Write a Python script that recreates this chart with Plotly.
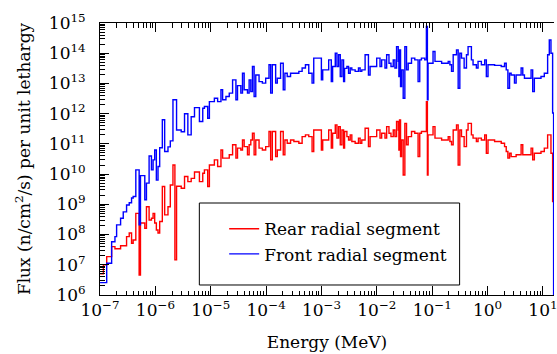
import plotly.graph_objects as go

# ---- data ----
# log10 of lower energy-group boundaries (MeV); last entry is the upper bound of the last group
log10_energy_edges = [
    -7.000, -6.940, -6.880, -6.791, -6.731, -6.701, -6.629, -6.581, -6.521, -6.473,
    -6.431, -6.402, -6.354, -6.294, -6.270, -6.192, -6.162, -6.114, -6.072, -6.042,
    -6.013, -5.983, -5.953, -5.923, -5.875, -5.833, -5.773, -5.731, -5.683, -5.648,
    -5.618, -5.534, -5.474, -5.414, -5.354, -5.294, -5.205, -5.145,
    -5.115, -5.055, -5.025, -4.935, -4.876, -4.816, -4.786, -4.726, -4.666, -4.606,
    -4.546, -4.517, -4.457, -4.427, -4.397, -4.337, -4.307, -4.277, -4.247, -4.217,
    -4.187, -4.128, -4.068, -4.008, -3.948, -3.918, -3.888, -3.828, -3.798, -3.739,
    -3.691, -3.661, -3.619, -3.559, -3.499, -3.409, -3.350, -3.290, -3.230, -3.170,
    -3.140,
    -3.050, -3.002, -2.978, -2.870, -2.823, -2.799, -2.751, -2.721, -2.691, -2.661,
    -2.631, -2.601, -2.583, -2.541, -2.511, -2.481, -2.452, -2.392, -2.332, -2.302,
    -2.272, -2.212, -2.152, -2.122, -2.063, -2.003, -1.943, -1.913, -1.853, -1.823,
    -1.781, -1.745, -1.704, -1.674, -1.644, -1.614, -1.602, -1.590, -1.572, -1.554,
    -1.524, -1.494, -1.464, -1.434, -1.374, -1.315, -1.255, -1.225, -1.195, -1.135,
    -1.105, -1.087, -1.075, -0.985,
    -0.950, -0.830, -0.711, -0.681, -0.651, -0.621, -0.561, -0.531, -0.501, -0.471,
    -0.423, -0.381, -0.352, -0.292, -0.262, -0.202, -0.172, -0.112, -0.052, -0.022,
    0.008, 0.127, 0.247, 0.307, 0.337, 0.367, 0.397, 0.426, 0.486, 0.516,
    0.606, 0.636, 0.666, 0.786, 0.815, 0.845, 0.965, 1.025, 1.085, 1.115,
    1.145, 1.175, 1.193, 1.300,
]

# log10 of flux per unit lethargy, n/cm^2/s, one value per group
log10_front_flux = [
    6.41, 6.41, 7.05, 7.76, 7.93, 8.32, 8.54, 8.75, 8.98, 9.05,
    9.21, 9.26, 10.14, 8.32, 9.95, 9.15, 9.70, 10.60, 10.14, 10.47,
    10.80, 9.80, 10.25, 10.87, 11.80, 10.75, 10.90, 11.10, 12.46, 12.46,
    11.46, 11.40, 12.00, 11.30, 11.90, 12.20, 11.74, 12.18,
    12.24, 11.85, 12.40, 12.51, 12.40, 12.79, 12.46, 12.57, 12.68, 13.12,
    12.46, 12.93, 12.68, 13.34, 12.79, 12.68, 13.12, 12.73, 13.56, 12.57,
    13.28, 13.06, 13.01, 13.17, 13.62, 12.68, 13.62, 13.01, 13.17, 13.67,
    12.79, 13.34, 13.23, 13.34, 13.34, 13.40, 13.51, 13.62, 13.34, 13.01,
    13.84,
    13.84, 13.12, 13.45, 13.78, 13.06, 13.56, 14.00, 13.56, 13.95, 13.23,
    13.78, 13.06, 13.50, 13.56, 13.34, 13.51, 13.45, 13.40, 13.51, 13.40,
    13.45, 13.95, 13.28, 13.56, 13.56, 13.84, 13.56, 13.78, 13.51, 13.95,
    13.67, 13.56, 13.78, 13.51, 14.22, 13.73, 13.23, 14.11, 12.90, 13.45,
    12.51, 14.22, 13.45, 13.67, 13.84, 13.78, 13.06, 13.78, 13.84, 13.78,
    14.89, 12.46, 13.67, 14.06,
    13.73, 13.67, 13.73, 13.62, 13.40, 13.95, 14.11, 12.84, 14.00, 13.84,
    13.51, 13.95, 14.22, 13.78, 13.62, 13.51, 13.73, 13.62, 13.78, 13.23,
    13.62, 13.60, 13.56, 13.67, 13.45, 12.84, 13.34, 13.28, 13.01, 13.28,
    13.51, 13.28, 13.17, 13.45, 12.73, 13.17, 13.23, 13.34, 13.95, 14.44,
    14.00, 12.02, 3.00,
]

log10_rear_flux = [
    6.70, 7.00, 7.27, 7.60, 7.53, 7.53, 7.63, 7.63, 7.93, 8.05,
    7.71, 7.82, 8.70, 6.66, 8.38, 8.21, 8.92, 8.48, 8.54, 8.70,
    8.38, 8.15, 8.05, 8.43, 9.59, 8.65, 8.92, 9.64, 10.30, 7.16,
    9.60, 9.53, 9.92, 9.75, 9.86, 10.07, 9.75, 10.03,
    10.14, 9.59, 10.30, 10.47, 10.25, 10.80, 10.53, 10.53, 10.64, 10.97,
    10.53, 10.86, 10.80, 11.13, 10.91, 10.64, 10.97, 11.13, 11.35, 10.64,
    11.13, 10.86, 10.80, 10.91, 11.41, 10.47, 11.41, 10.58, 10.80, 11.41,
    10.64, 11.13, 11.02, 11.13, 11.08, 11.02, 11.24, 11.30, 11.24, 10.75,
    11.46,
    11.46, 10.80, 11.13, 11.46, 10.86, 11.35, 11.63, 11.19, 11.57, 10.97,
    11.46, 10.86, 11.41, 11.24, 11.13, 11.30, 11.08, 11.02, 11.19, 11.02,
    11.13, 11.52, 10.91, 11.24, 11.24, 11.46, 11.19, 11.35, 11.19, 11.57,
    11.35, 11.24, 11.46, 11.24, 11.74, 11.46, 10.80, 11.79, 10.58, 11.13,
    9.97, 11.68, 10.97, 11.24, 11.41, 11.35, 10.58, 11.35, 11.41, 11.41,
    12.40, 9.97, 11.30, 11.57,
    11.19, 11.13, 11.24, 11.08, 10.97, 11.46, 11.63, 10.30, 11.46, 11.24,
    10.91, 11.46, 11.68, 11.30, 11.19, 11.08, 11.19, 11.13, 11.30, 10.69,
    11.13, 11.08, 11.02, 10.91, 10.75, 10.53, 10.69, 10.58, 10.58, 10.64,
    10.97, 10.64, 10.64, 10.86, 10.47, 10.69, 10.75, 10.86, 11.30, 11.30,
    10.69, 9.09, 9.09,
]

x_tick_exponents = [-7, -6, -5, -4, -3, -2, -1, 0, 1]
y_tick_exponents = [6, 7, 8, 9, 10, 11, 12, 13, 14, 15]
minor_digits = [2, 3, 4, 5, 6, 7, 8, 9]

series_names = ["Rear radial segment", "Front radial segment"]
series_colors = ["#ff0000", "#0000ff"]

# ---- build figure ----
energy = [10 ** e for e in log10_energy_edges]


def step_values(log_vals):
    vals = [10 ** v for v in log_vals]
    return vals + [vals[-1]]


def minor_vals(exps):
    return [d * 10 ** e for e in [exps[0] - 1] + exps for d in minor_digits]


FONT = "DejaVu Serif"
fig = go.Figure()
for name, color, lv in zip(series_names, series_colors, [log10_rear_flux, log10_front_flux]):
    fig.add_trace(go.Scatter(
        x=energy, y=step_values(lv), mode="lines", name=name,
        line=dict(color=color, width=1.4, shape="hv"),
    ))


def sup(e):
    return "10<sup>" + str(e).replace("-", "\u2212") + "</sup>"


axis_common = dict(
    type="log", showgrid=False, zeroline=False, showline=True,
    linecolor="black", linewidth=1, ticks="inside", ticklen=9,
    tickwidth=1, tickcolor="black",
    tickfont=dict(family=FONT, size=17, color="black"),
)

minor_common = dict(ticks="inside", ticklen=4.5, tickwidth=1, tickcolor="black",
                    showgrid=False, tickmode="array")

fig.update_layout(
    width=557, height=354,
    margin=dict(l=100, r=0, t=23, b=59),
    paper_bgcolor="white", plot_bgcolor="white",
    font=dict(family=FONT, size=17, color="black"),
    showlegend=True,
    legend=dict(
        x=0.2735, y=0.308, xanchor="left", yanchor="top",
        bgcolor="rgba(0,0,0,0)", borderwidth=0,
        font=dict(family=FONT, size=17, color="black"),
    ),
    xaxis=dict(
        **axis_common,
        range=[-7.001, 1.2],
        tickmode="array",
        tickvals=[10 ** e for e in x_tick_exponents],
        ticktext=[sup(e) for e in x_tick_exponents],
        ticklabeloverflow="allow",
        mirror="ticks",
        minor=dict(**minor_common, tickvals=minor_vals(x_tick_exponents)),
        title=dict(text="Energy (MeV)", font=dict(family=FONT, size=17), standoff=16),
    ),
    yaxis=dict(
        **axis_common,
        range=[5.999, 15.001],
        tickmode="array",
        tickvals=[10 ** e for e in y_tick_exponents],
        ticktext=[sup(e) for e in y_tick_exponents],
        ticklabelstandoff=10,
        ticklabeloverflow="allow",
        minor=dict(**minor_common, tickvals=minor_vals(y_tick_exponents)),
        title=dict(text="Flux (n/cm<sup>2</sup>/s) per unit lethargy",
                   font=dict(family=FONT, size=17), standoff=13),
    ),
    yaxis2=dict(
        type="log", overlaying="y", side="right", anchor="x",
        range=[5.999, 15.001], showgrid=False, zeroline=False,
        showline=True, linecolor="black", linewidth=1,
        ticks="inside", ticklen=9, tickwidth=1, tickcolor="black",
        tickmode="array", tickvals=[10 ** e for e in y_tick_exponents],
        showticklabels=False,
    ),
    shapes=[dict(
        type="rect", xref="paper", yref="paper",
        x0=0.2188, x1=0.7921, y0=0.0368, y1=0.3382,
        line=dict(color="black", width=1), fillcolor="white", layer="above",
    )],
)

fig.write_html("out.html")
